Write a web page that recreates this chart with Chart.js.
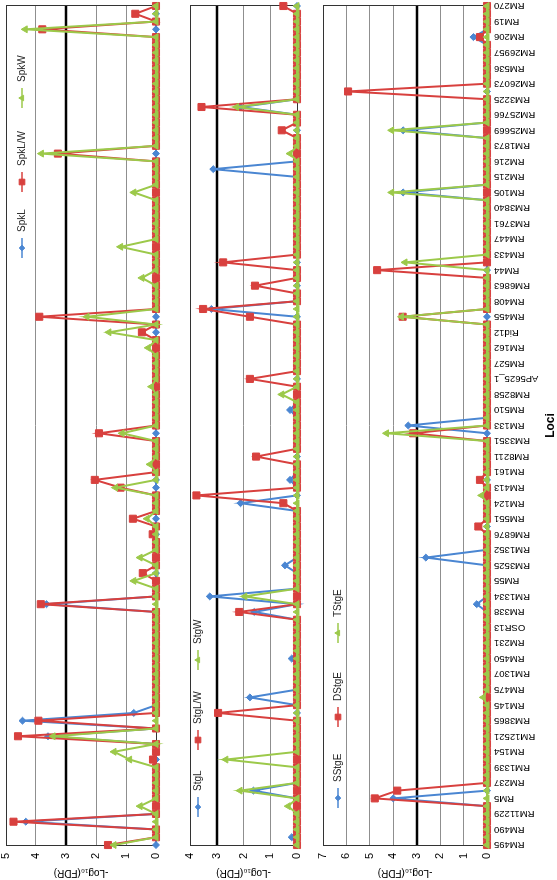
<!DOCTYPE html>
<html>
<head>
<meta charset="utf-8">
<title>-Log10(FDR) by locus</title>
<script src="https://cdn.jsdelivr.net/npm/chart.js@4.4.1/dist/chart.umd.min.js"></script>
<style>
  html, body { margin: 0; padding: 0; background: #fff; overflow: hidden; }
  body { width: 557px; height: 880px; position: relative; }
  /* the chart is laid out landscape, then turned a quarter turn to the left */
  #page { position: absolute; left: 0; top: 0; width: 880px; height: 557px;
          transform-origin: 0 0; transform: translateY(880px) rotate(-90deg); }
  .panel { position: absolute; left: 0; width: 880px; }
  canvas { display: block; }
</style>
</head>
<body>
<div id="page">
  <div class="panel" style="top:0"><canvas id="spk" width="880" height="165"></canvas></div>
  <div class="panel" style="top:170px"><canvas id="stg" width="880" height="135"></canvas></div>
  <div class="panel" style="top:305px"><canvas id="stgE" width="880" height="252"></canvas></div>
</div>
<script>
// labelled loci (every second category carries a label)
var loci = [
  "RM495", "RM490", "RM11229", "RM5", "RM237", "RM1339", "RM154", "RM12521", "RM3865", "RM145",
  "RM475", "RM1307", "RM450", "RM231", "OSR13", "RM338", "RM1334", "RM55", "RM3525", "RM1352",
  "RM6876", "RM551", "RM124", "RM413", "RM161", "RM8211", "RM3351", "RM133", "RM510", "RM8258",
  "AP5625_1", "RM527", "RM162", "Rid12", "RM455", "RM408", "RM6863", "RM44", "RM433", "RM447",
  "RM3761", "RM3840", "RM105", "RM215", "RM216", "RM1873", "RM25669", "RM25766", "RM3225", "RM26073",
  "RM536", "RM26957", "RM206", "RM19", "RM270"
];
var categories = [];
loci.forEach(function (name, i) {
  categories.push(name);
  if (i < loci.length - 1) categories.push("");
});

var threshold = 3;

// panel 1
var spkL = [
  0, 0, 0, 4.34, 0, 0, 0, 0, 0, 0,
  0, 0, 0, 0, 3.6, 0, 4.45, 0.74, 0, 0,
  0, 0, 0, 0, 0, 0, 0, 0, 0, 0,
  0, 3.65, 0, 0, 0, 0, 0, 0, 0, 0,
  0, 0, 0, 0, 0, 0, 0, 0, 0, 0,
  0, 0, 0, 0, 0, 0, 0, 0, 0, 0,
  0, 0, 0, 0, 0, 0, 0, 0, 0, 0,
  0, 0, 0, 0, 0, 0, 0, 0, 0, 0,
  0, 0, 0, 0, 0, 0, 0, 0, 0, 0,
  0, 0, 0, 0, 0, 0, 0, 0, 0, 0,
  0, 0, 0, 0, 0, 0, 0, 0, 0
];
var spkLW = [
  1.6, 0, 0, 4.75, 0, 0, 0, 0, 0, 0,
  0, 0.1, 0, 0, 4.6, 0, 3.92, 0, 0, 0,
  0, 0, 0, 0, 0, 0, 0, 0, 0, 0,
  0, 3.84, 0, 0, 0, 0.44, 0, 0, 0, 0,
  0.11, 0, 0.77, 0, 0, 0, 1.18, 2.04, 0, 0,
  0, 0, 0, 1.9, 0, 0, 0, 0, 0, 0,
  0, 0, 0, 0, 0, 0, 0.47, 0, 3.89, 0,
  0, 0, 0, 0, 0, 0, 0, 0, 0, 0,
  0, 0, 0, 0, 0, 0, 0, 0, 0, 3.27,
  0, 0, 0, 0, 0, 0, 0, 0, 0, 0,
  0, 0, 0, 0, 0, 3.79, 0, 0.69, 0
];
var spkW = [
  1.4, 0, 0, 0, 0, 0.53, 0, 0, 0, 0,
  0, 0.88, 1.4, 0, 3.43, 0, 0, 0, 0, 0,
  0, 0, 0, 0, 0, 0, 0, 0, 0, 0,
  0, 0, 0, 0, 0.74, 0, 0, 0.53, 0, 0,
  0, 0, 0.3, 0, 0, 0, 1.35, 0, 0, 0.2,
  0, 0, 0, 1.13, 0, 0, 0, 0, 0, 0.15,
  0, 0, 0, 0, 0.26, 0, 1.57, 0, 2.3, 0,
  0, 0, 0, 0.47, 0, 0, 0, 1.18, 0, 0,
  0, 0, 0, 0, 0.74, 0, 0, 0, 0, 3.82,
  0, 0, 0, 0, 0, 0, 0, 0, 0, 0,
  0, 0, 0, 0, 0, 4.36, 0, 0, 0
];

// panel 2
var stgL = [
  0, 0.2, 0, 0, 0, 0, 0, 1.63, 0, 0,
  0, 0, 0, 0, 0, 0, 0, 0, 0, 1.76,
  0, 0, 0, 0, 0.2, 0, 0, 0, 0, 0,
  1.6, 0, 3.26, 0, 0, 0, 0.45, 0, 0, 0,
  0, 0, 0, 0, 2.11, 0, 0, 0.26, 0, 0,
  0, 0, 0, 0, 0, 0, 0.26, 0, 0, 0,
  0, 0, 0, 0, 0, 0, 0, 0, 0, 3.2,
  0, 0, 0, 0, 0, 0, 0, 0, 0, 0,
  0, 0, 0, 0, 0, 0, 0, 3.13, 0, 0,
  0, 0, 0, 0, 0, 2.1, 0, 0, 0, 0,
  0, 0, 0, 0, 0, 0, 0, 0, 0
];
var stgLW = [
  0, 0, 0, 0, 0, 0, 0, 0, 0, 0,
  0, 0, 0, 0, 0, 0, 0, 2.95, 0, 0,
  0, 0, 0, 0, 0, 0, 0, 0, 0, 0,
  2.16, 0, 0, 0, 0, 0, 0, 0, 0, 0,
  0, 0, 0, 0, 0.51, 3.76, 0, 0, 0, 0,
  1.53, 0, 0, 0, 0, 0, 0, 0, 0, 0,
  1.76, 0, 0, 0, 0, 0, 0, 0, 1.76, 3.51,
  0, 0, 1.57, 0, 0, 2.76, 0, 0, 0, 0,
  0, 0, 0, 0, 0, 0, 0, 0, 0, 0,
  0, 0, 0.57, 0, 0, 3.57, 0, 0, 0, 0,
  0, 0, 0, 0, 0, 0, 0, 0, 0.51
];
var stgW = [
  0, 0, 0, 0, 0, 0.33, 0, 2.13, 0, 0,
  0, 2.66, 0, 0, 0, 0, 0, 0, 0, 0,
  0, 0, 0, 0, 0, 0, 0, 0, 0, 0,
  0, 0, 1.95, 0, 0, 0, 0, 0, 0, 0,
  0, 0, 0, 0, 0, 0, 0, 0, 0, 0,
  0, 0, 0, 0, 0, 0, 0, 0, 0.57, 0,
  0, 0, 0, 0, 0, 0, 0, 0, 0, 0,
  0, 0, 0, 0, 0, 0, 0, 0, 0, 0,
  0, 0, 0, 0, 0, 0, 0, 0, 0, 0.26,
  0, 0, 0, 0, 0, 2.26, 0, 0, 0, 0,
  0, 0, 0, 0, 0, 0, 0, 0, 0
];

// panel 3
var sStgE = [
  0, 0, 0, 0, 0, 0, 4.0, 0, 0, 0,
  0, 0, 0, 0, 0, 0, 0, 0, 0, 0,
  0, 0, 0, 0, 0, 0, 0, 0, 0, 0,
  0, 0.44, 0, 0, 0, 0, 0, 2.61, 0, 0,
  0, 0, 0, 0, 0, 0, 0, 0, 0, 0,
  0, 0, 0, 0, 3.36, 0, 0, 0, 0, 0,
  0, 0, 0, 0, 0, 0, 0, 0, 0, 0,
  0, 0, 0, 0, 0, 0, 0, 0, 0, 0,
  0, 0, 0, 0, 3.58, 0, 0, 0, 0, 0,
  0, 0, 3.58, 0, 0, 0, 0, 0, 0, 0,
  0, 0, 0, 0, 0.58, 0, 0, 0, 0
];
var dStgE = [
  0, 0, 0, 0, 0, 0, 4.79, 3.83, 0, 0,
  0, 0, 0, 0, 0, 0, 0, 0, 0, 0,
  0, 0, 0, 0, 0, 0, 0, 0, 0, 0,
  0, 0, 0, 0, 0, 0, 0, 0, 0, 0,
  0, 0.37, 0, 0, 0, 0, 0, 0.3, 0, 0,
  0, 0, 0, 3.15, 0, 0, 0, 0, 0, 0,
  0, 0, 0, 0, 0, 0, 0, 0, 3.6, 0,
  0, 0, 0, 0, 4.69, 0, 0, 0, 0, 0,
  0, 0, 0, 0, 0, 0, 0, 0, 0, 0,
  0, 0, 0, 0, 0, 0, 0, 5.93, 0, 0,
  0, 0, 0, 0, 0.3, 0, 0, 0, 0
];
var tStgE = [
  0, 0, 0, 0, 0, 0, 0, 0, 0, 0,
  0, 0, 0, 0, 0, 0, 0, 0, 0, 0.16,
  0, 0, 0, 0, 0, 0, 0, 0, 0, 0,
  0, 0, 0, 0, 0, 0, 0, 0, 0, 0,
  0, 0, 0, 0, 0, 0.23, 0, 0, 0, 0,
  0, 0, 0, 4.29, 0, 0, 0, 0, 0, 0,
  0, 0, 0, 0, 0, 0, 0, 0, 3.65, 0,
  0, 0, 0, 0, 0, 3.5, 0, 0, 0, 0,
  0, 0, 0, 0, 4.07, 0, 0, 0, 0, 0,
  0, 0, 4.07, 0, 0, 0, 0, 0, 0, 0,
  0, 0, 0, 0, 0, 0, 0, 0, 0
];

var BLUE = '#4a86d2';
var RED = '#d8403e';
var GREEN = '#9cc94a';
var FONT = '"Liberation Sans", Arial, sans-serif';

Chart.defaults.font.family = FONT;
Chart.defaults.color = '#000';

// frame round the plot area and the black threshold line
var framePlugin = {
  id: 'frame',
  beforeDatasetsDraw: function (chart) {
    var ctx = chart.ctx, a = chart.chartArea, y = chart.scales.y;
    ctx.save();
    var ty = Math.round(y.getPixelForValue(threshold));
    ctx.strokeStyle = '#000';
    ctx.lineWidth = 2.5;
    ctx.beginPath();
    ctx.moveTo(a.left, ty);
    ctx.lineTo(a.right, ty);
    ctx.stroke();
    ctx.strokeStyle = '#333';
    ctx.lineWidth = 1;
    ctx.strokeRect(Math.round(a.left) - 0.5, Math.round(a.top) + 0.5,
                   Math.round(a.right - a.left) + 1, Math.round(a.bottom - a.top));
    ctx.restore();
  }
};

// legend sits inside the plot area, as in the original
var legendPlugin = {
  id: 'insideLegend',
  afterDraw: function (chart, args, opts) {
    var ctx = chart.ctx;
    ctx.save();
    ctx.font = '10px ' + FONT;
    ctx.textBaseline = 'middle';
    ctx.textAlign = 'left';
    chart.data.datasets.forEach(function (ds, i) {
      var x = opts.xs[i], y = opts.y;
      ctx.strokeStyle = ds.borderColor;
      ctx.lineWidth = 1.5;
      ctx.beginPath();
      ctx.moveTo(x - 10, y);
      ctx.lineTo(x + 10, y);
      ctx.stroke();
      ctx.fillStyle = ds.borderColor;
      ctx.lineWidth = 1;
      Chart.helpers.drawPoint(ctx, { pointStyle: ds.pointStyle, radius: ds.pointRadius * 0.8, rotation: 0, borderWidth: 1 }, x, y);
      ctx.fillStyle = '#222';
      ctx.fillText(ds.label, x + 16, y);
    });
    ctx.restore();
  }
};

// locus names, written upwards with their end at the axis
var lociLabelPlugin = {
  id: 'lociLabels',
  afterDraw: function (chart, args, opts) {
    if (!opts.show) return;
    var ctx = chart.ctx, xs = chart.scales.x, top = chart.chartArea.bottom + 7;
    ctx.save();
    ctx.font = '9.5px ' + FONT;
    ctx.fillStyle = '#000';
    ctx.textAlign = 'right';
    ctx.textBaseline = 'middle';
    categories.forEach(function (name, i) {
      if (!name) return;
      ctx.save();
      ctx.translate(xs.getPixelForValue(i), top);
      ctx.rotate(-Math.PI / 2);
      ctx.fillText(name, 0, 0);
      ctx.restore();
    });
    ctx.restore();
  }
};

function series(label, data, color, style, radius, order) {
  return {
    label: label,
    data: data,
    borderColor: color,
    backgroundColor: color,
    pointBackgroundColor: color,
    pointBorderColor: color,
    pointBorderWidth: 1,
    pointStyle: style,
    pointRadius: radius,
    pointHoverRadius: radius,
    borderWidth: 2,
    tension: 0,
    clip: false,
    order: order
  };
}

function makePanel(id, names, values, yMax, padding, legendXs, legendY, showX) {
  var xScale = {
    type: 'category',
    offset: false,
    display: showX,
    grid: { display: false, drawTicks: false },
    border: { display: false },
    ticks: { display: false, autoSkip: false },
    title: {
      display: true,
      text: 'Loci',
      font: { size: 12, weight: 'bold', lineHeight: 1 },
      padding: { top: 0, bottom: 0 }
    }
  };
  if (showX) {
    xScale.afterFit = function (s) {
      s.height = 70;
      s.paddingLeft = 0;
      s.paddingRight = 0;
    };
  }
  return new Chart(document.getElementById(id), {
    type: 'line',
    data: {
      labels: categories,
      datasets: [
        series(names[0], values[0], BLUE, 'rectRot', 3.5, 3),
        series(names[1], values[1], RED, 'rect', 5, 2),
        series(names[2], values[2], GREEN, 'triangle', 4, 1)
      ]
    },
    options: {
      responsive: false,
      animation: false,
      events: [],
      layout: { padding: padding },
      plugins: {
        legend: { display: false },
        tooltip: { enabled: false },
        insideLegend: { xs: legendXs, y: legendY },
        lociLabels: { show: showX }
      },
      scales: {
        x: xScale,
        y: {
          min: 0,
          max: yMax,
          ticks: { stepSize: 1, padding: 8, autoSkip: false, font: { size: 11 } },
          grid: { color: '#8f8f8f', lineWidth: 1, drawTicks: false },
          border: { display: false },
          title: {
            display: true,
            text: '-Log\u2081\u2080(FDR)',
            font: { size: 10 },
            padding: { top: 1, bottom: 0 }
          },
          afterFit: function (s) {
            s.width = 35;
            s.paddingTop = 0;
            s.paddingBottom = 0;
          }
        }
      }
    },
    plugins: [framePlugin, legendPlugin, lociLabelPlugin]
  });
}

makePanel('spk', ['SpkL', 'SpkL/W', 'SpkW'], [spkL, spkLW, spkW], 5,
  { top: 4, bottom: 9, left: 0, right: 5 }, [632, 698, 782], 22, false);
makePanel('stg', ['StgL', 'StgL/W', 'StgW'], [stgL, stgLW, stgW], 4,
  { top: 20, bottom: 8, left: 0, right: 5 }, [73, 140, 220], 28, false);
makePanel('stgE', ['SStgE', 'DStgE', 'TStgE'], [sStgE, dStgE, tStgE], 7,
  { top: 18, bottom: 0, left: 0, right: 5 }, [82, 163, 247], 33, true);
</script>
</body>
</html>
